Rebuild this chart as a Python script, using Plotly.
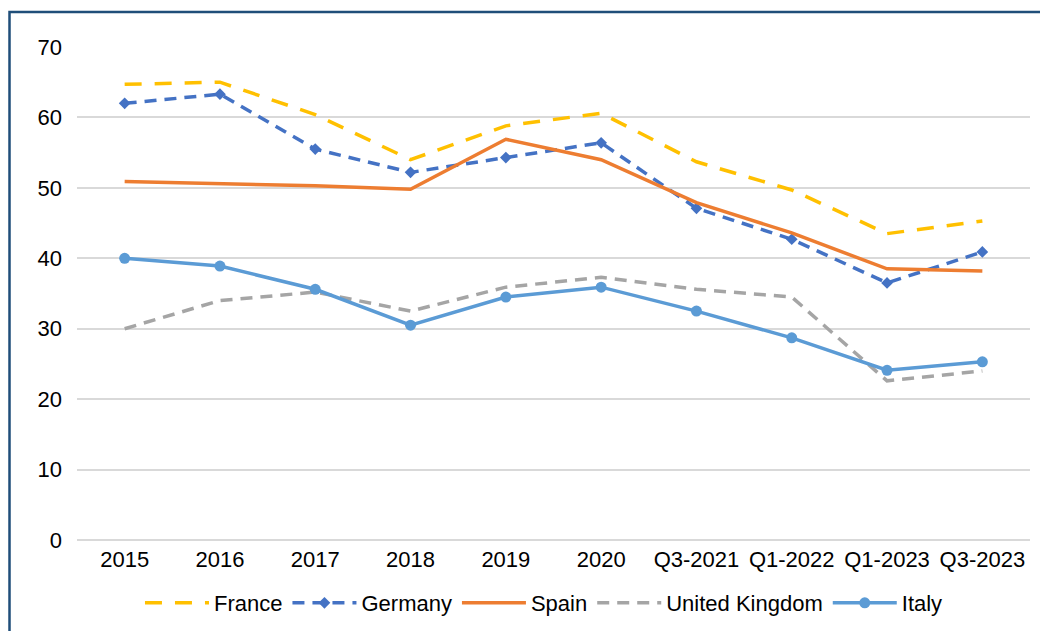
import plotly.graph_objects as go

categories = ["2015", "2016", "2017", "2018", "2019", "2020",
              "Q3-2021", "Q1-2022", "Q1-2023", "Q3-2023"]
france = [64.7, 65.0, 60.4, 54.0, 58.8, 60.6, 53.7, 49.7, 43.5, 45.3]
germany = [62.0, 63.3, 55.5, 52.2, 54.3, 56.4, 47.1, 42.7, 36.5, 40.9]
spain = [50.9, 50.6, 50.3, 49.8, 56.9, 54.0, 47.9, 43.6, 38.5, 38.2]
uk = [30.0, 34.0, 35.2, 32.5, 35.9, 37.3, 35.6, 34.5, 22.6, 24.0]
italy = [40.0, 38.9, 35.6, 30.5, 34.5, 35.9, 32.5, 28.7, 24.1, 25.3]

FONT = "Liberation Sans, Arial, Helvetica, sans-serif"

fig = go.Figure()
fig.add_trace(go.Scatter(x=categories, y=france, name="France", mode="lines",
                         line=dict(color="#FFC000", width=3.5, dash="17px,13px")))
fig.add_trace(go.Scatter(x=categories, y=germany, name="Germany", mode="lines+markers",
                         line=dict(color="#4472C4", width=3.5, dash="12px,8px"),
                         marker=dict(symbol="diamond", size=9, color="#4472C4")))
fig.add_trace(go.Scatter(x=categories, y=spain, name="Spain", mode="lines",
                         line=dict(color="#ED7D31", width=3.5)))
fig.add_trace(go.Scatter(x=categories, y=uk, name="United Kingdom", mode="lines",
                         line=dict(color="#A5A5A5", width=3.5, dash="12px,8px")))
fig.add_trace(go.Scatter(x=categories, y=italy, name="Italy", mode="lines+markers",
                         line=dict(color="#5B9BD5", width=3.5),
                         marker=dict(symbol="circle", size=11, color="#5B9BD5")))

PW, PH = 953, 493
H = 623
fig.update_layout(
    width=1040, height=H,
    margin=dict(l=69, r=18, t=39, b=91, autoexpand=False),
    paper_bgcolor="white", plot_bgcolor="white",
    font=dict(family=FONT, size=22, color="#000000"),
    showlegend=True,
    legend=dict(orientation="h", x=0.49, xanchor="center",
                yref="container", y=(H - (603 - 8)) / H, yanchor="middle",
                font=dict(family=FONT, size=22), itemwidth=64, tracegroupgap=0),
    xaxis=dict(type="category", range=[-0.5, 9.5], showgrid=False, showline=False,
               zeroline=False, ticks="", tickfont=dict(size=22), ticklabelstandoff=4),
    yaxis=dict(range=[0, 70], dtick=10, showgrid=True, gridcolor="#D9D9D9", gridwidth=1.5,
               zeroline=True, zerolinecolor="#D9D9D9", zerolinewidth=1.5,
               showline=False, ticks="", tickfont=dict(size=22),
               ticklabelstandoff=14),
    shapes=[dict(type="rect", xref="paper", yref="paper",
                 x0=(-69 + 1.5) / PW, x1=1.2, y0=-0.4, y1=1 + (39 - 4) / PH,
                 line=dict(color="#1F4E79", width=2.5), layer="above")],
)

fig.write_html("out.html")
